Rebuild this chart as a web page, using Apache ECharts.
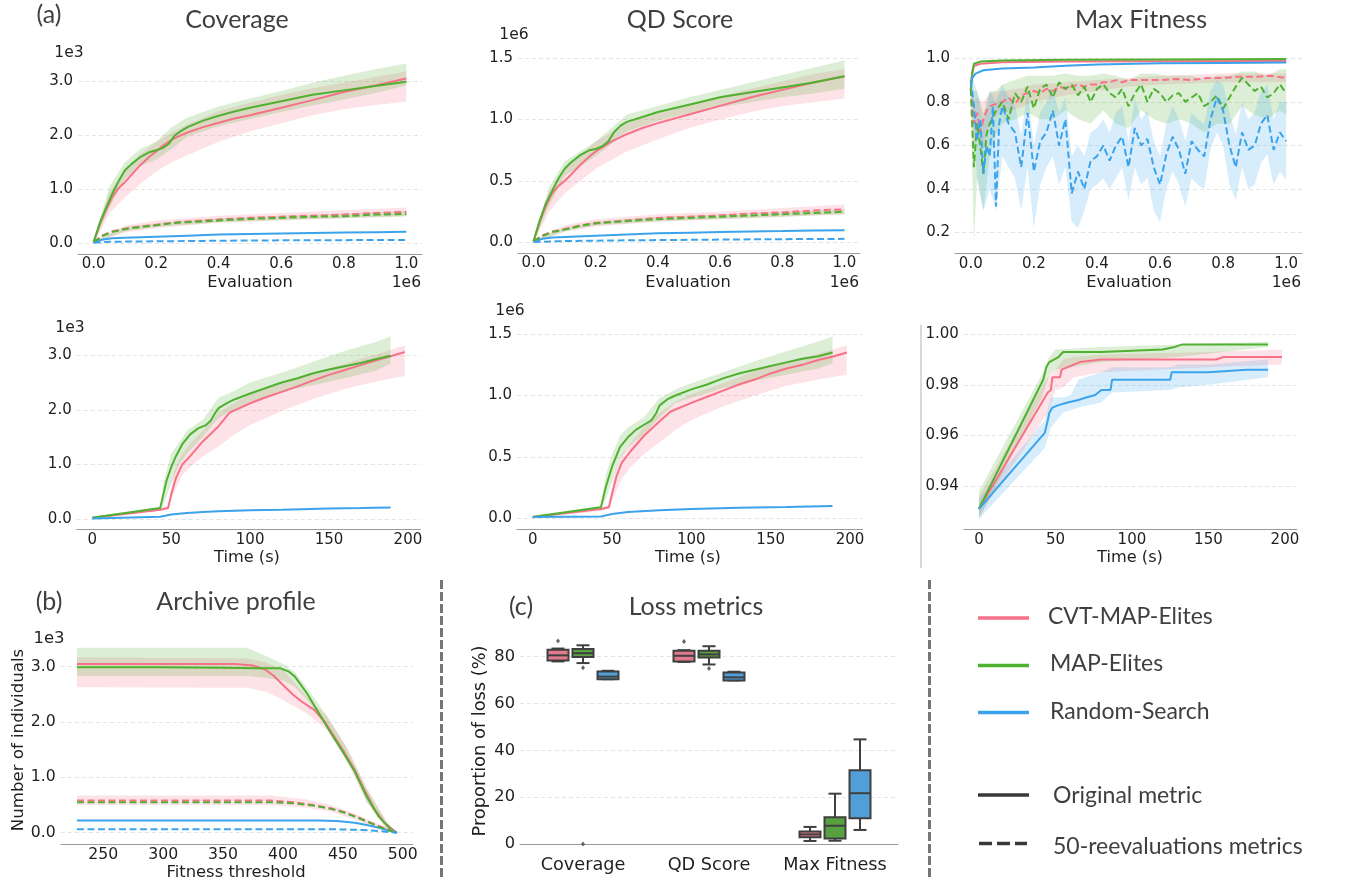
<!DOCTYPE html>
<html>
<head>
<meta charset="utf-8">
<script src="https://cdn.jsdelivr.net/npm/echarts@6/dist/echarts.min.js"></script>
<style>
  html, body { margin: 0; background: #fff; }
  #main { width: 1353px; height: 886px; }
</style>
</head>
<body>
<div id="main"></div>
<script>
// colours (seaborn husl, 3 colours)
const C_CVT = '#f77189'
const C_ME = '#50b131'
const C_RS = '#3ba3ec'

// ---- (a) row 1 : vs evaluations (x in 1e6) ----
// coverage, y in 1e3
const covEvalCvt = [[0,0.02],[0.02,0.35],[0.04,0.62],[0.06,0.86],[0.08,1.02],[0.1,1.13],[0.12,1.26],[0.15,1.45],[0.18,1.61],[0.2,1.7],[0.22,1.8],[0.25,1.92],[0.28,2.0],[0.3,2.05],[0.35,2.15],[0.4,2.23],[0.45,2.31],[0.5,2.37],[0.55,2.44],[0.6,2.51],[0.7,2.65],[0.8,2.8],[0.9,2.92],[1.0,3.05]]
const covEvalMe = [[0,0.02],[0.02,0.38],[0.04,0.66],[0.06,0.92],[0.08,1.15],[0.1,1.35],[0.12,1.46],[0.15,1.6],[0.18,1.69],[0.2,1.72],[0.22,1.76],[0.24,1.84],[0.26,2.0],[0.28,2.08],[0.3,2.15],[0.35,2.27],[0.4,2.36],[0.45,2.44],[0.5,2.51],[0.55,2.57],[0.6,2.63],[0.7,2.75],[0.8,2.83],[0.9,2.91],[1.0,2.99]]
const covEvalRs = [[0,0.02],[0.03,0.07],[0.06,0.09],[0.1,0.1],[0.2,0.12],[0.3,0.14],[0.4,0.16],[0.5,0.17],[0.6,0.18],[0.7,0.19],[0.8,0.2],[0.9,0.205],[1.0,0.21]]
const covEvalCvtRe = [[0,0.02],[0.03,0.15],[0.06,0.22],[0.1,0.27],[0.15,0.31],[0.2,0.34],[0.25,0.38],[0.3,0.4],[0.4,0.44],[0.5,0.47],[0.6,0.49],[0.7,0.51],[0.8,0.53],[0.9,0.56],[1.0,0.58]]
const covEvalMeRe = [[0,0.02],[0.03,0.14],[0.06,0.21],[0.1,0.26],[0.15,0.3],[0.2,0.33],[0.25,0.37],[0.3,0.39],[0.4,0.42],[0.5,0.45],[0.6,0.47],[0.7,0.49],[0.8,0.5],[0.9,0.53],[1.0,0.54]]
const covEvalRsRe = [[0,0.01],[0.05,0.025],[0.1,0.03],[0.3,0.04],[0.5,0.05],[0.7,0.055],[1.0,0.06]]
// bands: [x, low, high]
const covEvalCvtBand = [[0,0,0.04],[0.05,0.55,0.95],[0.1,0.85,1.35],[0.15,1.1,1.65],[0.2,1.33,1.88],[0.25,1.5,2.05],[0.3,1.63,2.2],[0.4,1.88,2.45],[0.5,2.07,2.6],[0.6,2.22,2.75],[0.7,2.37,2.87],[0.8,2.48,2.97],[0.9,2.56,3.08],[1.0,2.62,3.18]]
const covEvalMeBand = [[0,0,0.04],[0.05,0.65,1.05],[0.1,1.2,1.5],[0.15,1.43,1.75],[0.2,1.55,1.88],[0.25,1.75,2.15],[0.3,1.97,2.33],[0.4,2.17,2.53],[0.5,2.3,2.68],[0.6,2.43,2.82],[0.7,2.55,2.97],[0.8,2.66,3.1],[0.9,2.78,3.22],[1.0,2.92,3.33]]
const covEvalCvtReBand = [[0,0,0.04],[0.1,0.2,0.33],[0.2,0.28,0.42],[0.4,0.38,0.51],[0.6,0.42,0.56],[0.8,0.46,0.61],[1.0,0.5,0.66]]
const covEvalMeReBand = [[0,0,0.04],[0.1,0.22,0.3],[0.2,0.3,0.37],[0.4,0.39,0.46],[0.6,0.43,0.51],[0.8,0.46,0.55],[1.0,0.5,0.59]]

// qd score, y in 1e6
const qdEvalCvt = [[0,0.01],[0.02,0.17],[0.04,0.3],[0.06,0.4],[0.08,0.46],[0.1,0.5],[0.12,0.55],[0.15,0.63],[0.18,0.7],[0.2,0.74],[0.25,0.82],[0.3,0.88],[0.35,0.93],[0.4,0.97],[0.5,1.04],[0.6,1.11],[0.7,1.18],[0.8,1.24],[0.9,1.3],[1.0,1.35]]
const qdEvalMe = [[0,0.01],[0.02,0.18],[0.04,0.32],[0.06,0.42],[0.08,0.52],[0.1,0.6],[0.12,0.65],[0.15,0.71],[0.18,0.75],[0.2,0.76],[0.22,0.78],[0.24,0.82],[0.26,0.9],[0.28,0.95],[0.3,0.98],[0.35,1.02],[0.4,1.06],[0.5,1.12],[0.6,1.18],[0.7,1.22],[0.8,1.26],[0.9,1.3],[1.0,1.35]]
const qdEvalRs = [[0,0.01],[0.03,0.03],[0.06,0.04],[0.1,0.045],[0.2,0.055],[0.3,0.065],[0.4,0.075],[0.5,0.08],[0.6,0.085],[0.7,0.09],[0.8,0.093],[0.9,0.097],[1.0,0.1]]
const qdEvalCvtRe = [[0,0.01],[0.03,0.06],[0.06,0.09],[0.1,0.11],[0.15,0.14],[0.2,0.16],[0.3,0.18],[0.4,0.2],[0.5,0.21],[0.6,0.22],[0.7,0.235],[0.8,0.245],[0.9,0.26],[1.0,0.27]]
const qdEvalMeRe = [[0,0.01],[0.03,0.055],[0.06,0.085],[0.1,0.105],[0.15,0.135],[0.2,0.155],[0.3,0.175],[0.4,0.19],[0.5,0.2],[0.6,0.21],[0.7,0.22],[0.8,0.23],[0.9,0.24],[1.0,0.25]]
const qdEvalRsRe = [[0,0.005],[0.1,0.012],[0.3,0.018],[0.5,0.022],[0.7,0.026],[1.0,0.03]]
const qdEvalCvtBand = [[0,0,0.02],[0.05,0.25,0.42],[0.1,0.4,0.6],[0.2,0.6,0.82],[0.3,0.74,0.97],[0.4,0.84,1.06],[0.5,0.93,1.12],[0.6,1.0,1.19],[0.7,1.06,1.25],[0.8,1.11,1.31],[0.9,1.14,1.37],[1.0,1.17,1.41]]
const qdEvalMeBand = [[0,0,0.02],[0.05,0.3,0.45],[0.1,0.54,0.66],[0.2,0.7,0.82],[0.3,0.9,1.04],[0.4,0.99,1.11],[0.5,1.05,1.18],[0.6,1.1,1.24],[0.7,1.14,1.3],[0.8,1.18,1.36],[0.9,1.21,1.42],[1.0,1.25,1.48]]
const qdEvalCvtReBand = [[0,0,0.02],[0.1,0.09,0.14],[0.2,0.13,0.19],[0.4,0.17,0.23],[0.6,0.19,0.25],[0.8,0.21,0.28],[1.0,0.23,0.31]]
const qdEvalMeReBand = [[0,0,0.02],[0.1,0.09,0.12],[0.2,0.14,0.17],[0.4,0.17,0.21],[0.6,0.19,0.23],[0.8,0.21,0.25],[1.0,0.23,0.27]]

// max fitness
const maxEvalCvt = [[0,0.88],[0.005,0.93],[0.01,0.965],[0.03,0.975],[0.1,0.982],[0.3,0.985],[0.6,0.987],[1.0,0.988]]
const maxEvalMe = [[0,0.86],[0.005,0.94],[0.01,0.975],[0.03,0.985],[0.1,0.99],[0.3,0.993],[0.6,0.995],[1.0,0.997]]
const maxEvalRs = [[0,0.87],[0.005,0.91],[0.015,0.93],[0.04,0.945],[0.1,0.953],[0.2,0.958],[0.3,0.966],[0.4,0.972],[0.6,0.977],[0.8,0.979],[1.0,0.981]]
const maxEvalCvtRe = [[0,0.86],[0.01,0.7],[0.02,0.75],[0.03,0.66],[0.04,0.72],[0.05,0.76],[0.06,0.78],[0.08,0.79],[0.1,0.8],[0.12,0.82],[0.14,0.79],[0.16,0.83],[0.18,0.84],[0.2,0.85],[0.22,0.84],[0.24,0.86],[0.26,0.85],[0.28,0.87],[0.3,0.86],[0.32,0.87],[0.34,0.88],[0.36,0.87],[0.38,0.88],[0.4,0.88],[0.42,0.89],[0.44,0.89],[0.46,0.9],[0.48,0.89],[0.5,0.9],[0.55,0.9],[0.6,0.9],[0.65,0.905],[0.7,0.9],[0.75,0.91],[0.8,0.91],[0.85,0.915],[0.9,0.915],[0.95,0.92],[1.0,0.91]]
const maxEvalMeRe = [[0,0.86],[0.01,0.5],[0.02,0.7],[0.03,0.6],[0.04,0.47],[0.05,0.65],[0.06,0.7],[0.08,0.76],[0.1,0.8],[0.12,0.72],[0.14,0.84],[0.16,0.8],[0.18,0.87],[0.2,0.77],[0.22,0.86],[0.24,0.88],[0.26,0.82],[0.28,0.89],[0.3,0.86],[0.32,0.88],[0.34,0.83],[0.36,0.87],[0.38,0.8],[0.4,0.86],[0.42,0.88],[0.44,0.84],[0.46,0.82],[0.48,0.86],[0.5,0.78],[0.52,0.84],[0.54,0.88],[0.56,0.8],[0.58,0.86],[0.6,0.84],[0.62,0.8],[0.64,0.83],[0.66,0.84],[0.68,0.8],[0.7,0.82],[0.72,0.84],[0.74,0.78],[0.76,0.8],[0.78,0.83],[0.8,0.77],[0.82,0.82],[0.84,0.87],[0.86,0.91],[0.88,0.88],[0.9,0.85],[0.92,0.87],[0.94,0.82],[0.96,0.84],[0.98,0.88],[1.0,0.84]]
const maxEvalRsRe = [[0,0.9],[0.01,0.78],[0.02,0.62],[0.03,0.72],[0.04,0.47],[0.05,0.6],[0.06,0.55],[0.07,0.78],[0.08,0.32],[0.09,0.7],[0.1,0.78],[0.12,0.7],[0.14,0.66],[0.16,0.5],[0.18,0.75],[0.2,0.48],[0.22,0.62],[0.24,0.66],[0.26,0.76],[0.28,0.6],[0.3,0.72],[0.32,0.38],[0.34,0.48],[0.36,0.4],[0.38,0.53],[0.4,0.55],[0.42,0.6],[0.44,0.53],[0.46,0.6],[0.48,0.64],[0.5,0.5],[0.52,0.68],[0.54,0.6],[0.56,0.63],[0.58,0.5],[0.6,0.42],[0.62,0.56],[0.64,0.64],[0.66,0.58],[0.68,0.47],[0.7,0.62],[0.72,0.58],[0.74,0.55],[0.76,0.72],[0.78,0.82],[0.8,0.76],[0.82,0.6],[0.84,0.5],[0.86,0.66],[0.88,0.58],[0.9,0.6],[0.92,0.7],[0.94,0.74],[0.96,0.58],[0.98,0.66],[1.0,0.62]]
const maxEvalCvtReBand = [[0,0.8,0.9],[0.01,0.55,0.8],[0.02,0.66,0.82],[0.04,0.58,0.8],[0.06,0.72,0.84],[0.1,0.75,0.85],[0.15,0.77,0.86],[0.2,0.8,0.88],[0.3,0.83,0.89],[0.4,0.85,0.9],[0.5,0.87,0.91],[0.6,0.88,0.92],[0.8,0.89,0.93],[1.0,0.89,0.93]]
const maxEvalMeReBand = [[0,0.8,0.9],[0.01,0.15,0.85],[0.02,0.45,0.85],[0.04,0.3,0.75],[0.06,0.55,0.85],[0.08,0.65,0.85],[0.1,0.7,0.88],[0.14,0.72,0.9],[0.18,0.75,0.92],[0.22,0.72,0.92],[0.26,0.72,0.92],[0.3,0.76,0.93],[0.34,0.72,0.92],[0.38,0.7,0.92],[0.42,0.76,0.93],[0.46,0.7,0.92],[0.5,0.68,0.9],[0.54,0.76,0.93],[0.58,0.72,0.93],[0.62,0.7,0.92],[0.66,0.72,0.92],[0.7,0.7,0.92],[0.74,0.66,0.9],[0.78,0.7,0.92],[0.82,0.7,0.92],[0.86,0.78,0.94],[0.9,0.74,0.94],[0.94,0.72,0.92],[0.98,0.76,0.95],[1.0,0.74,0.95]]
const maxEvalRsReBand = [[0,0.85,0.93],[0.02,0.45,0.85],[0.04,0.3,0.7],[0.06,0.4,0.85],[0.08,0.3,0.8],[0.1,0.55,0.88],[0.12,0.5,0.82],[0.14,0.45,0.78],[0.16,0.3,0.65],[0.18,0.5,0.85],[0.2,0.22,0.6],[0.22,0.42,0.75],[0.24,0.5,0.8],[0.26,0.55,0.86],[0.28,0.42,0.75],[0.3,0.5,0.82],[0.32,0.25,0.55],[0.34,0.22,0.6],[0.36,0.3,0.55],[0.38,0.4,0.66],[0.4,0.42,0.68],[0.42,0.45,0.72],[0.44,0.4,0.66],[0.46,0.45,0.75],[0.48,0.5,0.78],[0.5,0.35,0.62],[0.52,0.5,0.82],[0.54,0.42,0.72],[0.56,0.45,0.76],[0.58,0.3,0.62],[0.6,0.25,0.55],[0.62,0.4,0.7],[0.64,0.48,0.78],[0.66,0.42,0.72],[0.68,0.32,0.62],[0.7,0.45,0.75],[0.72,0.42,0.72],[0.74,0.4,0.7],[0.76,0.58,0.85],[0.78,0.66,0.9],[0.8,0.6,0.88],[0.82,0.42,0.75],[0.84,0.35,0.65],[0.86,0.5,0.8],[0.88,0.4,0.72],[0.9,0.42,0.75],[0.92,0.52,0.85],[0.94,0.56,0.88],[0.96,0.42,0.72],[0.98,0.48,0.8],[1.0,0.44,0.8]]

// ---- (a) row 2 : vs time (s) ----
const covTimeCvt = [[0,0.02],[43,0.17],[48,0.2],[50,0.45],[53,0.75],[57,1.0],[62,1.15],[70,1.42],[80,1.7],[87,1.95],[100,2.12],[110,2.23],[120,2.33],[130,2.43],[140,2.54],[150,2.64],[160,2.73],[170,2.82],[180,2.91],[190,2.99],[198,3.06]]
const covTimeMe = [[0,0.02],[43,0.2],[45,0.45],[47,0.7],[50,0.95],[53,1.15],[57,1.37],[62,1.55],[67,1.66],[72,1.72],[75,1.8],[78,1.95],[80,2.03],[85,2.12],[90,2.19],[100,2.3],[110,2.4],[120,2.5],[130,2.58],[140,2.67],[150,2.74],[160,2.8],[170,2.86],[180,2.93],[189,2.99]]
const covTimeRs = [[0,0.01],[43,0.04],[50,0.08],[60,0.11],[70,0.125],[80,0.14],[100,0.16],[120,0.17],[150,0.19],[170,0.2],[189,0.21]]
const covTimeCvtBand = [[0,0,0.04],[43,0.15,0.2],[48,0.17,0.24],[52,0.5,0.9],[57,0.8,1.2],[62,0.95,1.38],[70,1.15,1.62],[80,1.33,1.95],[90,1.55,2.13],[100,1.72,2.28],[120,1.98,2.48],[140,2.2,2.67],[160,2.38,2.85],[180,2.52,3.02],[198,2.62,3.18]]
const covTimeMeBand = [[0,0,0.04],[43,0.17,0.22],[45,0.25,0.65],[50,0.65,1.2],[55,1.0,1.4],[60,1.2,1.62],[70,1.5,1.82],[80,1.85,2.22],[90,2.0,2.35],[100,2.15,2.5],[120,2.33,2.68],[140,2.45,2.88],[160,2.58,3.08],[180,2.72,3.25],[189,2.85,3.35]]

const qdTimeCvt = [[0,0.01],[43,0.075],[48,0.09],[50,0.2],[53,0.35],[56,0.45],[62,0.55],[70,0.67],[80,0.79],[87,0.87],[100,0.94],[110,0.99],[120,1.04],[130,1.09],[140,1.13],[150,1.18],[160,1.22],[170,1.25],[180,1.29],[190,1.32],[198,1.35]]
const qdTimeMe = [[0,0.01],[43,0.09],[46,0.25],[50,0.42],[55,0.58],[60,0.66],[65,0.72],[70,0.76],[75,0.8],[78,0.86],[80,0.92],[85,0.97],[90,1.0],[100,1.05],[110,1.09],[120,1.14],[130,1.18],[140,1.21],[150,1.24],[160,1.27],[170,1.3],[180,1.32],[189,1.35]]
const qdTimeRs = [[0,0.01],[43,0.015],[50,0.035],[60,0.05],[80,0.065],[100,0.075],[130,0.085],[160,0.092],[189,0.1]]
const qdTimeCvtBand = [[0,0,0.02],[43,0.06,0.09],[48,0.08,0.11],[52,0.2,0.38],[56,0.32,0.52],[62,0.42,0.62],[70,0.52,0.74],[80,0.62,0.86],[90,0.72,0.95],[100,0.8,1.01],[120,0.91,1.1],[140,1.0,1.2],[160,1.08,1.28],[180,1.13,1.34],[198,1.17,1.41]]
const qdTimeMeBand = [[0,0,0.02],[43,0.08,0.1],[46,0.15,0.35],[50,0.3,0.52],[55,0.48,0.67],[60,0.58,0.74],[70,0.68,0.82],[80,0.82,0.98],[90,0.94,1.05],[100,0.98,1.1],[120,1.06,1.19],[140,1.12,1.28],[160,1.17,1.36],[180,1.22,1.44],[189,1.26,1.48]]

const maxTimeCvt = [[0,0.931],[45,0.977],[47,0.978],[48,0.983],[53,0.983],[54,0.986],[58,0.987],[62,0.988],[66,0.989],[80,0.99],[155,0.99],[160,0.991],[190,0.991],[198,0.991]]
const maxTimeMe = [[0,0.931],[42,0.982],[44,0.987],[46,0.989],[49,0.99],[52,0.991],[55,0.993],[80,0.993],[100,0.9935],[120,0.994],[128,0.995],[133,0.996],[189,0.996]]
const maxTimeRs = [[0,0.931],[43,0.961],[45,0.966],[46,0.969],[48,0.971],[52,0.972],[58,0.973],[65,0.974],[70,0.975],[76,0.976],[80,0.978],[86,0.978],[87,0.982],[125,0.982],[126,0.985],[150,0.985],[175,0.986],[189,0.986]]
const maxTimeCvtBand = [[0,0.928,0.936],[45,0.969,0.983],[50,0.978,0.986],[55,0.979,0.99],[62,0.983,0.991],[80,0.985,0.992],[150,0.987,0.993],[198,0.988,0.994]]
const maxTimeMeBand = [[0,0.927,0.938],[42,0.976,0.985],[46,0.984,0.991],[50,0.986,0.994],[80,0.989,0.995],[130,0.991,0.996],[189,0.995,0.997]]
const maxTimeRsBand = [[0,0.927,0.935],[43,0.955,0.966],[47,0.963,0.975],[55,0.969,0.975],[60,0.97,0.976],[65,0.971,0.982],[80,0.973,0.985],[87,0.977,0.987],[125,0.978,0.987],[130,0.979,0.988],[150,0.98,0.988],[189,0.983,0.99]]

// ---- (b) archive profile, y in 1e3 ----
const archCvt = [[228,3.05],[300,3.05],[360,3.05],[375,3.02],[385,2.95],[392,2.84],[400,2.67],[408,2.5],[415,2.38],[426,2.22],[435,2.0],[443,1.73],[451,1.46],[460,1.13],[468,0.77],[476,0.44],[485,0.17],[495,0.0]]
const archMe = [[228,2.99],[300,2.99],[350,2.98],[380,2.97],[398,2.97],[405,2.91],[410,2.82],[420,2.52],[430,2.16],[440,1.8],[450,1.46],[460,1.1],[470,0.65],[480,0.29],[490,0.06],[495,0.0]]
const archRs = [[228,0.22],[430,0.22],[445,0.21],[460,0.18],[470,0.14],[480,0.09],[490,0.03],[495,0]]
const archCvtRe = [[228,0.58],[390,0.58],[410,0.55],[425,0.5],[440,0.44],[450,0.38],[460,0.3],[470,0.21],[480,0.12],[490,0.04],[495,0]]
const archMeRe = [[228,0.55],[390,0.55],[410,0.53],[425,0.49],[440,0.43],[450,0.37],[460,0.29],[470,0.2],[480,0.11],[490,0.03],[495,0]]
const archRsRe = [[228,0.06],[445,0.06],[465,0.05],[480,0.03],[490,0.01],[495,0]]
const archCvtBand = [[228,2.63,3.17],[370,2.62,3.15],[385,2.55,3.08],[400,2.4,2.95],[420,2.15,2.45],[437,1.85,2.1],[453,1.3,1.55],[470,0.55,0.8],[487,0.05,0.18],[495,0,0.01]]
const archMeBand = [[228,2.83,3.34],[370,2.83,3.34],[385,2.8,3.2],[400,2.75,3.05],[409,2.65,2.92],[420,2.4,2.62],[437,1.95,2.1],[453,1.38,1.55],[470,0.55,0.8],[487,0.08,0.18],[495,0,0.01]]
const archCvtReBand = [[228,0.5,0.67],[390,0.5,0.67],[420,0.45,0.6],[440,0.38,0.5],[460,0.24,0.34],[480,0.08,0.15],[495,0,0.01]]

// ---- (c) loss metrics, % ----
const lossCategories = ['Coverage', 'QD Score', 'Max Fitness']
// [whiskerLow, q1, median, q3, whiskerHigh]
const boxCvt = [[78.0,78.4,80.6,83.0,83.5],[77.8,78.0,80.4,82.6,82.8],[1.3,2.9,4.1,5.3,7.3]]
const boxMe = [[77.3,79.9,81.5,83.3,84.9],[76.7,79.7,81.0,82.6,84.5],[1.4,2.3,7.8,11.4,21.5]]
const boxRs = [[70.4,70.4,71.5,73.7,74.0],[69.9,69.9,71.2,73.3,73.6],[6.0,11.0,21.7,31.5,44.7]]
const outCvt = [[0,86.7],[1,86.5]]
const outMe = [[0,75.3],[0,0],[1,75.0]]

// tick values
const evalTicks = [0, 0.2, 0.4, 0.6, 0.8, 1.0]
const timeTicks = [0, 50, 100, 150, 200]
const archTicks = [250, 300, 350, 400, 450, 500]

const FONT = '"DejaVu Sans", sans-serif'
const TXT = '#1f1f1f'
const TITLE = '#3f3f3f'

const grids = [
  {left: 78, top: 59.6, width: 344, height: 194.4},
  {left: 518, top: 50.5, width: 342, height: 202.5},
  {left: 955, top: 49.6, width: 347, height: 203.7},
  {left: 76.7, top: 328, width: 343.7, height: 201.3},
  {left: 517, top: 326.8, width: 345.5, height: 202.5},
  {left: 963.8, top: 333, width: 333.2, height: 196.3},
  {left: 60.8, top: 639, width: 352, height: 205.3},
  {left: 520, top: 630.3, width: 378, height: 224}
].map(g => Object.assign({containLabel: false, outerBoundsMode: 'none'}, g))

function xVal(i, min, max, ticks, fmt, size) {
  return {
    type: 'value', gridIndex: i, min, max,
    axisLine: {show: true, onZero: false, lineStyle: {color: '#9a9a9a', width: 1}},
    axisTick: {show: false, customValues: ticks},
    axisLabel: {customValues: ticks, formatter: fmt, color: TXT, fontSize: size || 15, fontFamily: FONT, margin: 3},
    splitLine: {show: false}
  }
}
function yVal(i, min, max, ticks, fmt, size) {
  return {
    type: 'value', gridIndex: i, min, max,
    axisLine: {show: false},
    axisTick: {show: false, customValues: ticks},
    axisLabel: {customValues: ticks, formatter: fmt, color: TXT, fontSize: size || 15, fontFamily: FONT, margin: 5},
    splitLine: {show: true, lineStyle: {color: '#e4e4e4', width: 1, type: [4, 3]}}
  }
}
const f0 = v => String(Math.round(v))
const f1 = v => v.toFixed(1)
const f2 = v => v.toFixed(2)

const xAxes = [
  xVal(0, -0.05, 1.05, evalTicks, f1),
  xVal(1, -0.05, 1.05, evalTicks, f1),
  xVal(2, -0.05, 1.05, evalTicks, f1),
  xVal(3, -9.9, 207.9, timeTicks, f0),
  xVal(4, -9.9, 207.9, timeTicks, f0),
  xVal(5, -9.9, 207.9, timeTicks, f0),
  xVal(6, 214.5, 508.4, archTicks, f0, 15.7),
  {
    type: 'category', gridIndex: 7, data: lossCategories, boundaryGap: true,
    axisLine: {show: true, lineStyle: {color: '#9a9a9a', width: 1}},
    axisTick: {show: false},
    axisLabel: {interval: 0, hideOverlap: false, color: TXT, fontSize: 17.7, fontFamily: FONT, margin: 2}
  }
]
const yAxes = [
  yVal(0, -0.2, 3.4, [0, 1, 2, 3], f1),
  yVal(1, -0.085, 1.56, [0, 0.5, 1, 1.5], f1),
  yVal(2, 0.105, 1.04, [0.2, 0.4, 0.6, 0.8, 1.0], f1),
  yVal(3, -0.19, 3.5, [0, 1, 2, 3], f1),
  yVal(4, -0.09, 1.56, [0, 0.5, 1, 1.5], f1),
  yVal(5, 0.9229, 1.0005, [0.94, 0.96, 0.98, 1.0], f2),
  yVal(6, -0.21, 3.5, [0, 1, 2, 3], f1, 15.7),
  yVal(7, -4.4, 91.3, [0, 20, 40, 60, 80], f0, 16.3)
]

function line(g, data, color, dashed) {
  return {
    type: 'line', xAxisIndex: g, yAxisIndex: g, data, symbol: 'none', z: 3,
    lineStyle: {color, width: 2, type: dashed ? [7, 3.5] : 'solid'}
  }
}
// shaded band drawn as one polygon through the axis scales
function band(g, data, color) {
  return {
    type: 'custom', xAxisIndex: g, yAxisIndex: g, data, z: 1, clip: true,
    encode: {x: 0, y: [1, 2]},
    renderItem(params, api) {
      if (params.dataIndex !== 0) return null
      const hi = data.map(d => api.coord([d[0], d[2]]))
      const lo = data.map(d => api.coord([d[0], d[1]])).reverse()
      return {type: 'polygon', shape: {points: hi.concat(lo)}, style: {fill: color, opacity: 0.2}}
    }
  }
}
// seaborn style box for one hue
function box(data, color, offset) {
  return {
    type: 'custom', xAxisIndex: 7, yAxisIndex: 7, z: 2,
    data: data.map((d, i) => [i].concat(d)),
    encode: {x: 0, y: [1, 2, 3, 4, 5]},
    renderItem(params, api) {
      const c = api.value(0)
      const cx = api.coord([c, 0])[0] + offset
      const y = k => api.coord([c, api.value(k)])[1]
      const lo = y(1), q1 = y(2), md = y(3), q3 = y(4), hi = y(5)
      const hw = 10.5, cw = 6.5
      const st = {stroke: '#3f3f3f', lineWidth: 2}
      return {type: 'group', children: [
        {type: 'line', shape: {x1: cx, y1: hi, x2: cx, y2: q3}, style: st},
        {type: 'line', shape: {x1: cx, y1: q1, x2: cx, y2: lo}, style: st},
        {type: 'line', shape: {x1: cx - cw, y1: hi, x2: cx + cw, y2: hi}, style: st},
        {type: 'line', shape: {x1: cx - cw, y1: lo, x2: cx + cw, y2: lo}, style: st},
        {type: 'rect', shape: {x: cx - hw, y: q3, width: 2 * hw, height: q1 - q3}, style: {fill: color, stroke: '#3f3f3f', lineWidth: 2}},
        {type: 'line', shape: {x1: cx - hw, y1: md, x2: cx + hw, y2: md}, style: st}
      ]}
    }
  }
}
function fliers(data, offset) {
  return {
    type: 'scatter', xAxisIndex: 7, yAxisIndex: 7, data, z: 3,
    symbol: 'diamond', symbolSize: [4, 5], symbolOffset: [offset, 0],
    itemStyle: {color: '#3f3f3f'}
  }
}

const series = [
  // coverage / evaluations
  band(0, covEvalCvtBand, C_CVT), band(0, covEvalMeBand, C_ME),
  band(0, covEvalCvtReBand, C_CVT), band(0, covEvalMeReBand, C_ME),
  line(0, covEvalCvt, C_CVT), line(0, covEvalMe, C_ME), line(0, covEvalRs, C_RS),
  line(0, covEvalCvtRe, C_CVT, true), line(0, covEvalMeRe, C_ME, true), line(0, covEvalRsRe, C_RS, true),
  // qd / evaluations
  band(1, qdEvalCvtBand, C_CVT), band(1, qdEvalMeBand, C_ME),
  band(1, qdEvalCvtReBand, C_CVT), band(1, qdEvalMeReBand, C_ME),
  line(1, qdEvalCvt, C_CVT), line(1, qdEvalMe, C_ME), line(1, qdEvalRs, C_RS),
  line(1, qdEvalCvtRe, C_CVT, true), line(1, qdEvalMeRe, C_ME, true), line(1, qdEvalRsRe, C_RS, true),
  // max fitness / evaluations
  band(2, maxEvalCvtReBand, C_CVT), band(2, maxEvalMeReBand, C_ME), band(2, maxEvalRsReBand, C_RS),
  line(2, maxEvalCvtRe, C_CVT, true), line(2, maxEvalMeRe, C_ME, true), line(2, maxEvalRsRe, C_RS, true),
  line(2, maxEvalCvt, C_CVT), line(2, maxEvalMe, C_ME), line(2, maxEvalRs, C_RS),
  // coverage / time
  band(3, covTimeCvtBand, C_CVT), band(3, covTimeMeBand, C_ME),
  line(3, covTimeCvt, C_CVT), line(3, covTimeMe, C_ME), line(3, covTimeRs, C_RS),
  // qd / time
  band(4, qdTimeCvtBand, C_CVT), band(4, qdTimeMeBand, C_ME),
  line(4, qdTimeCvt, C_CVT), line(4, qdTimeMe, C_ME), line(4, qdTimeRs, C_RS),
  // max fitness / time
  band(5, maxTimeCvtBand, C_CVT), band(5, maxTimeMeBand, C_ME), band(5, maxTimeRsBand, C_RS),
  line(5, maxTimeCvt, C_CVT), line(5, maxTimeMe, C_ME), line(5, maxTimeRs, C_RS),
  // archive profile
  band(6, archCvtBand, C_CVT), band(6, archMeBand, C_ME), band(6, archCvtReBand, C_CVT),
  line(6, archCvt, C_CVT), line(6, archMe, C_ME), line(6, archRs, C_RS),
  line(6, archCvtRe, C_CVT, true), line(6, archMeRe, C_ME, true), line(6, archRsRe, C_RS, true),
  // loss metrics
  box(boxCvt, '#e27a8d', -25), box(boxMe, '#58a141', 0), box(boxRs, '#519fd6', 25),
  fliers(outCvt, -25), fliers(outMe, 0)
]

function txt(text, x, y, opt) {
  opt = opt || {}
  return {
    type: 'text', x, y, rotation: opt.rot || 0, silent: true,
    style: {
      text, fill: opt.color || TXT,
      font: (opt.size || 15.5) + 'px ' + (opt.family || FONT),
      align: opt.align || 'center', verticalAlign: 'middle'
    }
  }
}
const T = {family: 'Lato, sans-serif', size: 25, color: TITLE}
const L = {family: 'Lato, sans-serif', size: 23, color: TITLE, align: 'left'}
const A = {size: 16.2}
function vline(x, y1, y2, stroke, width, dash) {
  return {type: 'line', silent: true, shape: {x1: x, y1, x2: x, y2},
    style: {stroke, lineWidth: width, lineDash: dash || null}}
}
function hline(x1, x2, y, stroke, dash) {
  return {type: 'line', silent: true, shape: {x1, y1: y, x2, y2: y},
    style: {stroke, lineWidth: 3.5, lineDash: dash || null}}
}

const graphic = [
  txt('(a)', 49, 15, T),
  txt('Coverage', 237, 20, T),
  txt('QD Score', 680, 20, T),
  txt('Max Fitness', 1141, 20, T),
  txt('1e3', 69, 53), txt('1e6', 514, 35),
  txt('Evaluation', 250, 283, A), txt('1e6', 421, 283, {align: 'right'}),
  txt('Evaluation', 688, 283, A), txt('1e6', 859, 283, {align: 'right'}),
  txt('Evaluation', 1129, 283, A), txt('1e6', 1301, 283, {align: 'right'}),
  txt('1e3', 70, 328), txt('1e6', 510, 311),
  txt('Time (s)', 247, 558, A), txt('Time (s)', 688, 558, A), txt('Time (s)', 1130, 558, A),
  vline(921, 325, 568, '#b4b4b4', 1),
  txt('(b)', 49, 602, T),
  txt('Archive profile', 236, 602, T),
  txt('1e3', 49, 639, {size: 16.5}),
  txt('Number of individuals', 18.5, 740, {rot: Math.PI / 2, size: 16.6}),
  txt('Fitness threshold', 236, 873, {size: 16.4}),
  txt('(c)', 521, 607, T),
  txt('Loss metrics', 696, 607, T),
  txt('Proportion of loss (%)', 480.5, 741, {rot: Math.PI / 2, size: 17.8}),
  // panel separators
  vline(441.5, 580, 880, '#767676', 3, [9, 3]),
  vline(929.5, 580, 880, '#767676', 3, [9, 3]),
  // legend
  hline(978, 1029, 618, C_CVT), txt('CVT-MAP-Elites', 1048, 617, L),
  hline(978, 1029, 665.5, C_ME), txt('MAP-Elites', 1050, 664, L),
  hline(978, 1029, 712.5, C_RS), txt('Random-Search', 1050, 712, L),
  hline(978, 1029, 795, '#383838'), txt('Original metric', 1053, 796, L),
  hline(979, 1027, 843.5, '#383838', [13, 5]), txt('50-reevaluations metrics', 1053, 847, L)
]

const chart = echarts.init(document.getElementById('main'))
chart.setOption({
  backgroundColor: '#ffffff',
  animation: false,
  grid: grids,
  xAxis: xAxes,
  yAxis: yAxes,
  series,
  graphic
})
</script>
</body>
</html>
